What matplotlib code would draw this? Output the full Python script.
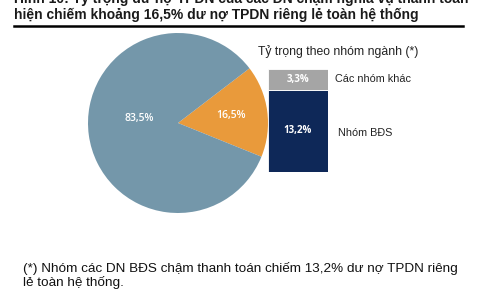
import matplotlib
matplotlib.use('Agg')
import matplotlib.pyplot as plt
from matplotlib.lines import Line2D

# data
pie_labels = ['DN chậm thanh toán', 'Còn lại']
pie_values = [16.5, 83.5]
pie_colors = ['#E99A3B', '#7497AA']

bar_groups = ['Nhóm BĐS', 'Các nhóm khác']
bar_values = [13.2, 3.3]
bar_colors = ['#0E2858', '#A5A5A5']

title_lines = ['Hình 10: Tỷ trọng dư nợ TPDN của các DN chậm nghĩa vụ thanh toán',
               'hiện chiếm khoảng 16,5% dư nợ TPDN riêng lẻ toàn hệ thống']
bar_title = 'Tỷ trọng theo nhóm ngành (*)'
note_lines = ['(*) Nhóm các DN BĐS chậm thanh toán chiếm 13,2% dư nợ TPDN riêng',
              'lẻ toàn hệ thống.']

W, H = 501, 300
fig = plt.figure(figsize=(W / 100, H / 100), dpi=100)


def px(x, y):
    # pixel (top-left origin) -> figure fraction
    return x / W, 1 - y / H


# title
for i, line in enumerate(title_lines):
    fig.text(*px(14, 3 + 16 * i), line, fontsize=10, fontweight='bold',
             family='Liberation Sans', color='#1a1a1a', va='baseline')
x0, y0 = px(14, 26)
x1, _ = px(463, 26)
fig.add_artist(Line2D([x0, x1], [y0, y0], color='black', lw=1.8))

# pie
r = 90
ax = fig.add_axes([(178 - r) / W, 1 - (123 + r) / H, 2 * r / W, 2 * r / H])
wedges, texts, autotexts = ax.pie(pie_values, colors=pie_colors, startangle=-22,
                                  radius=1, autopct=lambda p: f'{p:.1f}%'.replace('.', ','),
                                  pctdistance=0.59,
                                  textprops=dict(color='white', fontsize=7.5,
                                                 fontweight='semibold', family='Open Sans'))
autotexts[1].set_position((-0.43, 0.045))
ax.set_xlim(-1, 1)
ax.set_ylim(-1, 1)
ax.set_aspect('auto')
ax.axis('off')

# stacked bar
ax2 = fig.add_axes([268 / W, 1 - 172 / H, 60 / W, 103 / H])
bottom = 0
for name, v, c in zip(bar_groups, bar_values, bar_colors):
    ax2.bar(0, v, bottom=bottom, width=1, color=c, edgecolor='white', linewidth=0.6)
    ax2.text(0, bottom + v / 2, f'{v:.1f}%'.replace('.', ','), ha='center', va='center',
             color='white', fontsize=7, fontweight='bold', family='Open Sans')
    ax2.text(0.62 + (0.05 if v > 10 else 0), bottom + v / 2 - (0.3 if v > 10 else 0), name,
             ha='left', va='center', fontsize=7.8, family='Liberation Sans', color='#222222')
    bottom += v
ax2.set_xlim(-0.5, 0.5)
ax2.set_ylim(0, sum(bar_values))
ax2.axis('off')
ax2.text(-0.67, sum(bar_values) + 2.8, bar_title, ha='left', va='center', fontsize=8.8,
         family='Liberation Sans', color='#222222', clip_on=False)

# footnote
for i, line in enumerate(note_lines):
    fig.text(*px(23, 272 + 14 * i), line, fontsize=9.7, family='Liberation Sans',
             color='#111111', va='baseline')

fig.savefig('out.png', dpi=100)
